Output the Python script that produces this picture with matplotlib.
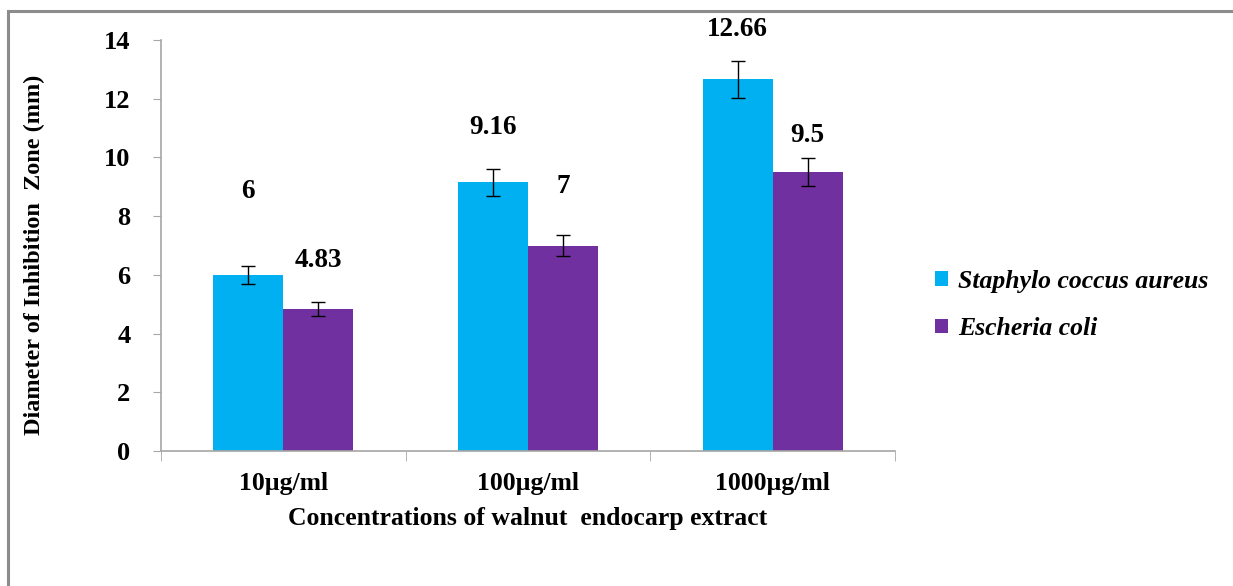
import matplotlib.pyplot as plt
from matplotlib.patches import Rectangle
import numpy as np

# Data
concentrations = ['10µg/ml', '100µg/ml', '1000µg/ml']
staph = [6, 9.16, 12.66]
ecoli = [4.83, 7, 9.5]
staph_err = [0.30, 0.46, 0.63]
ecoli_err = [0.24, 0.35, 0.48]
staph_labels = ['6', '9.16', '12.66']
ecoli_labels = ['4.83', '7', '9.5']

blue = '#00B0F0'
purple = '#7030A0'
grey = '#A6A6A6'

plt.rcParams['font.family'] = ['Liberation Serif', 'DejaVu Serif']
plt.rcParams['font.weight'] = 'bold'

W, H = 1233, 586
fig = plt.figure(figsize=(W / 100, H / 100), dpi=100)
ax = fig.add_axes([161 / W, 1 - 451 / H, (895 - 161) / W, (451 - 40) / H])

# grey frame around the chart area
fig.patches.append(Rectangle((8 / W, -0.1), 1.2, (H - 11) / H + 0.1, transform=fig.transFigure,
                             fill=False, edgecolor='#8C8C8C', linewidth=2.2, zorder=0))

x = np.arange(len(concentrations))
w = 0.286
ax.bar(x - w / 2, staph, w, color=blue, label='Staphylo coccus aureus', zorder=2)
ax.bar(x + w / 2, ecoli, w, color=purple, label='Escheria coli', zorder=2)
ax.errorbar(x - w / 2, staph, yerr=staph_err, fmt='none', ecolor='black', elinewidth=1,
            capsize=5, capthick=1, zorder=3)
ax.errorbar(x + w / 2, ecoli, yerr=ecoli_err, fmt='none', ecolor='black', elinewidth=1,
            capsize=5, capthick=1, zorder=3)

# value labels (heights above bar tops as placed in the original)
staph_off = [2.85, 1.85, 1.7]
ecoli_off = [1.65, 2.0, 1.25]
for i in range(len(x)):
    ax.text(x[i] - w / 2, staph[i] + staph_off[i], staph_labels[i], ha='center', va='center',
            fontsize=19.5, fontweight='bold')
    ax.text(x[i] + w / 2, ecoli[i] + ecoli_off[i], ecoli_labels[i], ha='center', va='center',
            fontsize=19.5, fontweight='bold')

ax.set_xlim(-0.5, 2.5)
ax.set_ylim(0, 14)
ax.set_yticks(range(0, 15, 2))
ax.set_xticks(x)
ax.set_xticklabels(concentrations)
ax.set_xticks([-0.5, 0.5, 1.5, 2.5], minor=True)
ax.tick_params(axis='x', which='major', length=0, pad=15, labelsize=18.5)
ax.tick_params(axis='x', which='minor', length=7, color=grey, direction='out')
ax.tick_params(axis='y', length=6, color=grey, direction='out', pad=16, labelsize=19)

for s in ['top', 'right']:
    ax.spines[s].set_visible(False)
for s in ['left', 'bottom']:
    ax.spines[s].set_color(grey)
    ax.spines[s].set_linewidth(1.2)

ax.set_xlabel('Concentrations of walnut  endocarp extract', fontsize=18.5, fontweight='bold', labelpad=9)
ax.set_ylabel('Diameter of Inhibition  Zone (mm)', fontsize=17.5, fontweight='bold')
ax.yaxis.set_label_coords(-0.158, 0.477)

leg = fig.legend(loc='center left', bbox_to_anchor=(912 / W, 1 - 305 / H), frameon=False,
                 prop={'family': 'Liberation Serif', 'style': 'italic', 'weight': 'bold', 'size': 18.5},
                 handlelength=0.5, handleheight=0.5, handletextpad=0.4, labelspacing=0.95)

fig.savefig('out.png', dpi=100)
